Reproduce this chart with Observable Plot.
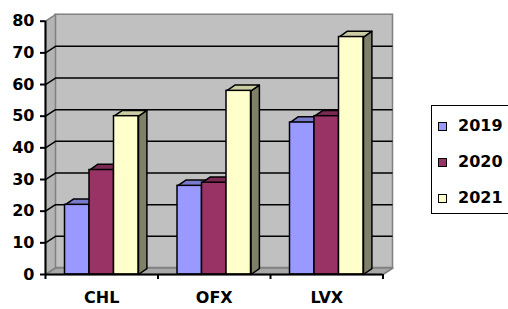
<!DOCTYPE html>
<html><head><meta charset="utf-8">
<script src="https://cdn.jsdelivr.net/npm/d3@7"></script>
<script src="https://cdn.jsdelivr.net/npm/@observablehq/plot@0.6"></script>
<style>
body{margin:0;background:#fff;font-family:"DejaVu Sans",sans-serif;}
#wrap{position:relative;width:508px;height:309px;overflow:hidden}
.legend{position:absolute;left:431px;top:105px;width:90px;height:107px;border:1px solid #000;background:#fff}
.item{position:absolute;left:6px;font-weight:bold;font-size:16px;line-height:20px;display:flex;align-items:center;color:#000}
.sw{width:7px;height:7px;border:1px solid #000;margin-right:11px}
</style></head><body><div id="wrap"></div>
<script>
const categories = ["CHL", "OFX", "LVX"];
const years = ["2019", "2020", "2021"];
const v2019 = [22, 28, 48];
const v2020 = [33, 29, 50];
const v2021 = [50, 58, 75];
const yTicks = [0, 10, 20, 30, 40, 50, 60, 70, 80];
const frontColors = ["#9999FF", "#993366", "#FFFFCC"];
const topColors = ["#7A7ACC", "#7A2952", "#CCCCA3"];
const sideColors = ["#5C5C99", "#5C1F3D", "#80806A"];

const series = [v2019, v2020, v2021];
const W = 508, H = 309;
const mL = 45, mR = 125.5, mT = 20.7, mB = 35;
const pxX = (W - mL - mR) / 3;      // px per category unit
const pxY = (H - mT - mB) / 80;     // px per value unit
const WDX = 10 / pxX, WDY = 6.5 / pxY;   // wall depth
const BDX = 8.4 / pxX, BDY = 5.8 / pxY;  // bar depth
const barW = 24.5 / pxX;
const gOff = (1 - 3 * barW) / 2;

const bars = [];
categories.forEach((c, j) => {
  series.forEach((vals, i) => {
    const x1 = j + gOff + i * barW;
    bars.push({cat: c, year: years[i], s: i, value: vals[j], x1, x2: x1 + barW});
  });
});

function poly(pts, id) { return pts.concat([pts[0]]).map(([x, y]) => ({x, y, id})); }

const leftWall = poly([[0, 0], [WDX, WDY], [WDX, 80 + WDY], [0, 80]], "lw");
const floor = poly([[0, 0], [3, 0], [3 + WDX, WDY], [WDX, WDY]], "fl");
const gridVals = yTicks.filter(d => d > 0 && d < 80);

const marks = [
  Plot.rect([0], {x1: WDX, x2: 3 + WDX, y1: WDY, y2: 80 + WDY, fill: "#C0C0C0", stroke: "#808080", strokeWidth: 1.5}),
  Plot.line(leftWall, {x: "x", y: "y", z: "id", fill: "#B4B4B4", stroke: "#808080", strokeWidth: 1.5}),
  Plot.line(floor, {x: "x", y: "y", z: "id", fill: "#A8A8A8", stroke: "#808080", strokeWidth: 1.5}),
  Plot.ruleY(gridVals, {y: d => d + WDY, x1: WDX, x2: 3 + WDX, stroke: "#000", strokeWidth: 1.5}),
  Plot.link(gridVals, {x1: 0, y1: d => d, x2: WDX, y2: d => d + WDY, stroke: "#000", strokeWidth: 1.5})
];

series.forEach((_, i) => {
  const bs = bars.filter(b => b.s === i);
  const sides = bs.flatMap((b, k) => poly([[b.x2, b.value], [b.x2 + BDX, b.value + BDY], [b.x2 + BDX, BDY], [b.x2, 0]], "s" + i + k));
  marks.push(Plot.line(sides, {x: "x", y: "y", z: "id", fill: sideColors[i], stroke: "#000", strokeWidth: 1.5}));
});
series.forEach((_, i) => {
  const bs = bars.filter(b => b.s === i);
  const tops = bs.flatMap((b, k) => poly([[b.x1, b.value], [b.x1 + BDX, b.value + BDY], [b.x2 + BDX, b.value + BDY], [b.x2, b.value]], "t" + i + k));
  marks.push(Plot.line(tops, {x: "x", y: "y", z: "id", fill: topColors[i], stroke: "#000", strokeWidth: 1.5}));
});
marks.push(Plot.rect(bars, {x1: "x1", x2: "x2", y1: 0, y2: "value", fill: d => frontColors[d.s], stroke: "#000", strokeWidth: 1.5}));

marks.push(
  Plot.ruleX([0], {y1: 0, y2: 80, stroke: "#000", strokeWidth: 2}),
  Plot.ruleY([0], {x1: 0, x2: 3, stroke: "#000", strokeWidth: 2}),
  Plot.axisY(yTicks, {tickSize: 5, tickPadding: 6, fontSize: 16, fontWeight: "bold", fontFamily: "DejaVu Sans", strokeWidth: 2, label: null}),
  Plot.axisX([0, 1, 2, 3], {tickSize: 5, tickFormat: () => "", strokeWidth: 2, label: null}),
  Plot.axisX([0.5, 1.5, 2.5], {tickSize: 0, tickPadding: 17, tickFormat: d => categories[Math.floor(d)], fontSize: 16, fontWeight: "bold", fontFamily: "DejaVu Sans", label: null})
);

const chart = Plot.plot({
  width: W, height: H,
  marginLeft: mL, marginRight: mR, marginTop: mT, marginBottom: mB,
  x: {type: "linear", domain: [0, 3]},
  y: {type: "linear", domain: [0, 80]},
  style: {background: "#fff", color: "#000", overflow: "visible"},
  marks
});
const wrap = document.getElementById("wrap");
wrap.appendChild(chart);

const legend = document.createElement("div");
legend.className = "legend";
years.forEach((y, i) => {
  const it = document.createElement("div");
  it.className = "item";
  it.style.top = (10 + i * 36) + "px";
  const sw = document.createElement("span");
  sw.className = "sw";
  sw.style.background = frontColors[i];
  it.appendChild(sw);
  it.appendChild(document.createTextNode(y));
  legend.appendChild(it);
});
wrap.appendChild(legend);
</script></body></html>
